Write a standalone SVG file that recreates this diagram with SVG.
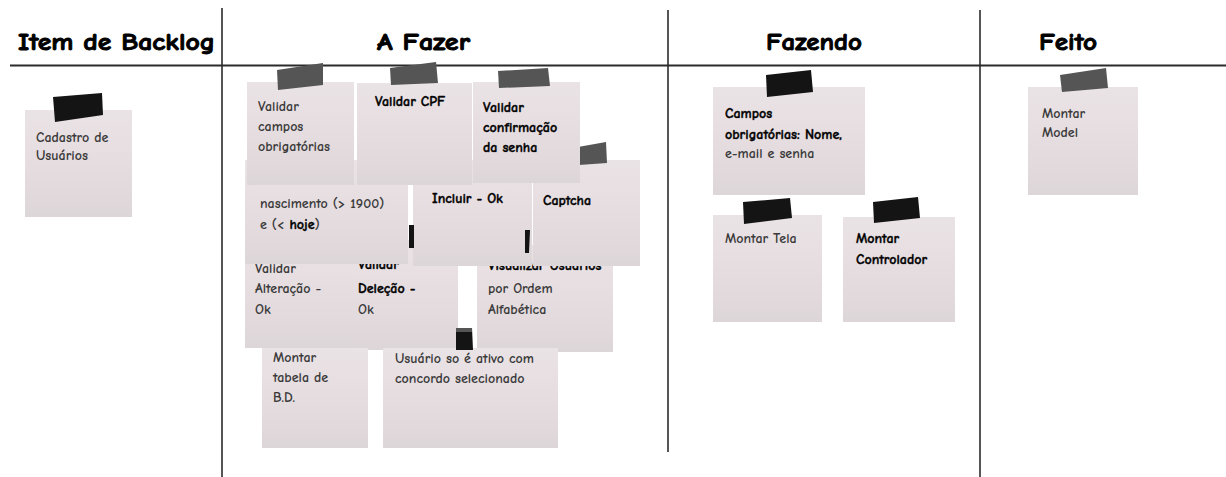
<svg xmlns="http://www.w3.org/2000/svg" width="1226" height="477" viewBox="0 0 1226 477">
  <defs>
    <linearGradient id="paper" x1="0" y1="0" x2="0" y2="1">
      <stop offset="0" stop-color="#eae3e6"/>
      <stop offset="0.55" stop-color="#e5dcdf"/>
      <stop offset="1" stop-color="#ddd6d8"/>
    </linearGradient>
    <style>
      .rule { stroke: #2b2b2b; stroke-width: 2; fill: none; }
      .col { stroke: #2b2b2b; stroke-width: 1.6; fill: none; }
      .note { fill: url(#paper); }
      .tape { fill: #141414; }
      .tape-g { fill: #555555; }
      .hdr { font-family: "Comic Sans MS", "Comic Neue", "Open Sans", "DejaVu Sans", sans-serif; font-size: 24px; font-weight: 700; fill: #000; stroke: #000; stroke-width: 0.9; }
      .t { font-family: "Comic Sans MS", "Comic Neue", "Open Sans", "DejaVu Sans", sans-serif; font-size: 14px; font-weight: 700; fill: #3a3a3a; }
      .tb { font-family: "Comic Sans MS", "Comic Neue", "Open Sans", "DejaVu Sans", sans-serif; font-size: 14px; font-weight: 700; fill: #000; stroke: #000; stroke-width: 0.35; }
    </style>
  </defs>

  <rect width="1226" height="477" fill="#ffffff"/>

  <!-- board grid: header rule and column separators -->
  <g id="board-lines">
    <line class="rule" x1="10" y1="65.5" x2="1226" y2="65.5"/>
    <line class="col" x1="222" y1="8" x2="222" y2="477"/>
    <line class="col" x1="668" y1="10" x2="668" y2="452"/>
    <line class="col" x1="980" y1="10" x2="980" y2="477"/>
  </g>

  <!-- column headers -->
  <g id="headers">
    <text class="hdr" x="18" y="50" textLength="197" lengthAdjust="spacingAndGlyphs">Item de Backlog</text>
    <text class="hdr" x="377" y="50" textLength="93" lengthAdjust="spacingAndGlyphs">A Fazer</text>
    <text class="hdr" x="766" y="50" textLength="96" lengthAdjust="spacingAndGlyphs">Fazendo</text>
    <text class="hdr" x="1039" y="50" textLength="58" lengthAdjust="spacingAndGlyphs">Feito</text>
  </g>

  <!-- backlog -->
  <g id="note-cadastro">
    <rect class="note" x="25" y="110" width="107" height="107"/>
    <polygon class="tape" points="53,97 102,93 103,115 55,122"/>
    <text class="t" x="36" y="142">Cadastro de</text>
    <text class="t" x="36" y="160">Usuários</text>
  </g>

  <!-- A Fazer, third row (lowest layer) -->
  <g id="note-alteracao">
    <rect class="note" x="245" y="240" width="108" height="108"/>
    <text class="t" x="255" y="273">Validar</text>
    <text class="t" x="255" y="293">Alteração -</text>
    <text class="t" x="255" y="314">Ok</text>
  </g>
  <g id="note-delecao">
    <rect class="note" x="353" y="240" width="105" height="110"/>
    <text class="tb" x="358" y="269">Validar</text>
    <text class="tb" x="358" y="293">Deleção -</text>
    <text class="t" x="358" y="314">Ok</text>
  </g>
  <g id="note-visualizar">
    <rect class="note" x="477" y="245" width="136" height="107"/>
    <text class="tb" x="488" y="270">Visualizar Usuários</text>
    <text class="t" x="488" y="293">por Ordem</text>
    <text class="t" x="488" y="314">Alfabética</text>
  </g>

  <!-- A Fazer, fourth row -->
  <g id="note-tabela">
    <rect class="note" x="262" y="348" width="106" height="100"/>
    <text class="t" x="273" y="362">Montar</text>
    <text class="t" x="273" y="382">tabela de</text>
    <text class="t" x="273" y="402">B.D.</text>
  </g>
  <g id="note-concordo">
    <rect class="note" x="383" y="348" width="175" height="100"/>
    <polygon class="tape" points="456,330 472,328 473,350 456,350"/>
    <rect class="tape-g" x="456" y="328" width="16" height="4"/>
    <text class="t" x="395" y="363">Usuário so é ativo com</text>
    <text class="t" x="395" y="383">concordo selecionado</text>
  </g>

  <!-- A Fazer, second row -->
  <g id="note-nascimento">
    <rect class="note" x="245" y="160" width="163" height="104"/>
    <text class="t" x="260" y="208">nascimento (&gt; 1900)</text>
    <text class="t" x="260" y="229">e (&lt; <tspan class="tb">hoje</tspan>)</text>
  </g>
  <g id="note-incluir">
    <rect class="note" x="413" y="160" width="119" height="106"/>
    <text class="tb" x="432" y="203">Incluir - Ok</text>
  </g>
  <g id="note-captcha">
    <rect class="note" x="533" y="160" width="107" height="106"/>
    <polygon class="tape-g" points="578,147 606,142 607,163 579,165"/>
    <text class="tb" x="543" y="205">Captcha</text>
  </g>

  <!-- loose tape scraps peeking between notes -->
  <g id="tape-scraps">
    <rect class="tape" x="409" y="225" width="5" height="23"/>
    <polygon class="tape" points="525,230 530,230 529,253 525,253"/>
  </g>

  <!-- A Fazer, first row (top layer) -->
  <g id="note-campos">
    <rect class="note" x="247" y="82" width="107" height="103"/>
    <polygon class="tape-g" points="277,70 323,63 323,85 278,90"/>
    <text class="t" x="258" y="111">Validar</text>
    <text class="t" x="258" y="131">campos</text>
    <text class="t" x="258" y="151">obrigatórias</text>
  </g>
  <g id="note-cpf">
    <rect class="note" x="357" y="83" width="115" height="102"/>
    <polygon class="tape-g" points="390,68 436,62 438,83 391,85"/>
    <text class="tb" x="375" y="106">Validar CPF</text>
  </g>
  <g id="note-senha">
    <rect class="note" x="473" y="82" width="107" height="101"/>
    <polygon class="tape-g" points="498,71 548,68 550,86 499,88"/>
    <text class="tb" x="483" y="112">Validar</text>
    <text class="tb" x="483" y="132">confirmação</text>
    <text class="tb" x="483" y="152">da senha</text>
  </g>

  <!-- Fazendo -->
  <g id="note-obrigatorios">
    <rect class="note" x="713" y="87" width="152" height="108"/>
    <polygon class="tape" points="766,75 811,70 813,92 767,97"/>
    <text class="tb" x="725" y="118">Campos</text>
    <text class="tb" x="725" y="139">obrigatórias: Nome,</text>
    <text class="t" x="725" y="158">e-mail e senha</text>
  </g>
  <g id="note-tela">
    <rect class="note" x="713" y="215" width="109" height="107"/>
    <polygon class="tape" points="743,202 790,198 792,218 744,224"/>
    <text class="t" x="725" y="243">Montar Tela</text>
  </g>
  <g id="note-controlador">
    <rect class="note" x="843" y="217" width="112" height="105"/>
    <polygon class="tape" points="873,202 918,197 920,218 874,223"/>
    <text class="tb" x="856" y="243">Montar</text>
    <text class="tb" x="856" y="264">Controlador</text>
  </g>

  <!-- Feito -->
  <g id="note-model">
    <rect class="note" x="1028" y="87" width="110" height="108"/>
    <polygon class="tape-g" points="1060,75 1106,68 1108,88 1062,92"/>
    <text class="t" x="1042" y="118">Montar</text>
    <text class="t" x="1042" y="137">Model</text>
  </g>
</svg>
